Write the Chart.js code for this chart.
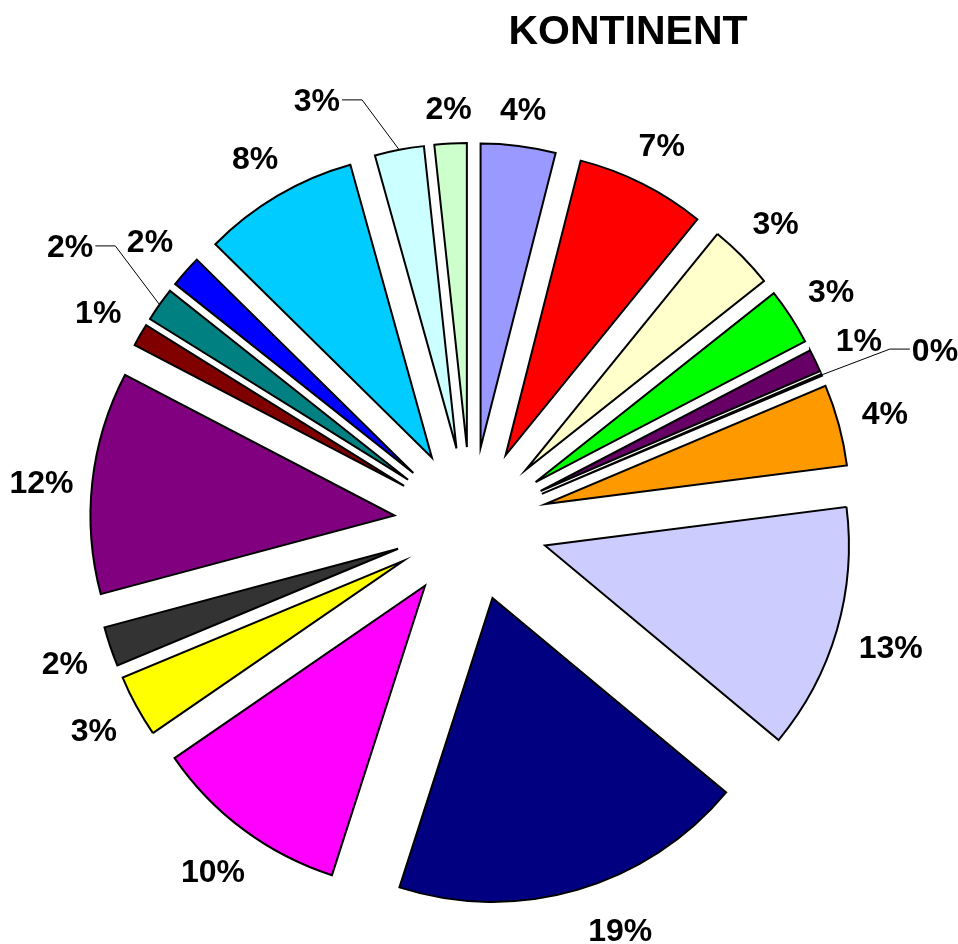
<!DOCTYPE html>
<html lang="de">
<head>
    <meta charset="UTF-8">
    <title>Kontinent</title>
    <script src="https://cdn.jsdelivr.net/npm/chart.js@4.4.1/dist/chart.umd.min.js"></script>
    <style>
        html, body { margin: 0; padding: 0; background: #fff; }
        #wrap { width: 958px; height: 944px; position: relative; }
    </style>
</head>
<body>
    <div id="wrap"><canvas id="pie"></canvas></div>

    <script>
        // Data (clockwise from 12 o'clock)
        const categories = [
            'Kategorie 1', 'Kategorie 2', 'Kategorie 3', 'Kategorie 4', 'Kategorie 5',
            'Kategorie 6', 'Kategorie 7', 'Kategorie 8', 'Kategorie 9', 'Kategorie 10',
            'Kategorie 11', 'Kategorie 12', 'Kategorie 13', 'Kategorie 14', 'Kategorie 15',
            'Kategorie 16', 'Kategorie 17', 'Kategorie 18', 'Kategorie 19'
        ];
        const shares = [3.95, 6.85, 3.45, 3.0, 1.2, 0.1, 4.3, 13.0, 18.8, 10.4,
                        3.3, 2.1, 11.75, 1.2, 1.8, 1.7, 8.25, 2.6, 1.7];
        const sliceColors = [
            '#9999FF', '#FF0000', '#FFFFCC', '#00FF00', '#660066', '#FFFFFF',
            '#FF9900', '#CCCCFF', '#000080', '#FF00FF', '#FFFF00', '#333333',
            '#800080', '#800000', '#008080', '#0000FF', '#00CCFF', '#CCFFFF', '#CCFFCC'
        ];
        const chartTitle = 'KONTINENT';

        const EXPLODE = 77;     // every slice pulled out from the centre
        const LABEL_GAP = 22;   // gap between arc and label box
        const HALF_H = 12.5;    // half height of a label box
        // labels dragged away from their slice (these get a leader line)
        const labelNudge = { 5: [69, -7], 14: [-50, -31], 17: [-75, -12] };
        // labels moved a little, no leader line
        const labelShift = { 8: [31, -2], 12: [4, 5] };

        const total = shares.reduce((a, b) => a + b, 0);

        // move every arc outward along its middle angle
        const explode = {
            id: 'explode',
            afterDatasetsUpdate(chart) {
                chart.getDatasetMeta(0).data.forEach(arc => {
                    const mid = (arc.startAngle + arc.endAngle) / 2;
                    arc.x += Math.cos(mid) * EXPLODE;
                    arc.y += Math.sin(mid) * EXPLODE;
                });
            }
        };

        const pctLabels = {
            id: 'pctLabels',
            afterDatasetsDraw(chart) {
                const ctx = chart.ctx;
                ctx.save();
                ctx.font = 'bold 32px "Liberation Sans", Arial, sans-serif';
                ctx.fillStyle = '#000';
                ctx.strokeStyle = '#000';
                ctx.lineWidth = 1;
                ctx.textAlign = 'center';
                ctx.textBaseline = 'alphabetic';
                chart.getDatasetMeta(0).data.forEach((arc, i) => {
                    const mid = (arc.startAngle + arc.endAngle) / 2;
                    const cos = Math.cos(mid), sin = Math.sin(mid);
                    const r = arc.outerRadius;
                    const text = Math.round(shares[i] / total * 100) + '%';
                    const w = ctx.measureText(text).width;
                    const dist = r + LABEL_GAP + Math.abs(cos) * w / 2 + Math.abs(sin) * HALF_H;
                    let lx = arc.x + cos * dist;
                    let ly = arc.y + sin * dist;
                    const shift = labelShift[i];
                    if (shift) {
                        lx += shift[0];
                        ly += shift[1];
                    }
                    const nudge = labelNudge[i];
                    if (nudge) {
                        lx += nudge[0];
                        ly += nudge[1];
                        const ax = arc.x + cos * r, ay = arc.y + sin * r;
                        const side = lx < ax ? 1 : -1;
                        const edge = lx + side * w / 2;
                        ctx.beginPath();
                        ctx.moveTo(ax, ay);
                        ctx.lineTo(edge + side * 22, ly);
                        ctx.lineTo(edge + side * 2, ly);
                        ctx.stroke();
                    }
                    ctx.fillText(text, lx, ly + 11.5);
                });

                ctx.font = 'bold 41px "Liberation Sans", Arial, sans-serif';
                ctx.fillText(chartTitle, 628, 44);
                ctx.restore();
            }
        };

        new Chart(document.getElementById('pie'), {
            type: 'pie',
            data: {
                labels: categories,
                datasets: [{
                    data: shares,
                    backgroundColor: sliceColors,
                    borderColor: '#000',
                    borderWidth: 2,
                    borderJoinStyle: 'miter'
                }]
            },
            options: {
                responsive: true,
                maintainAspectRatio: false,
                animation: false,
                events: [],
                radius: 304,
                layout: { padding: { top: 104, right: 16, bottom: 0, left: 0 } },
                plugins: {
                    legend: { display: false },
                    tooltip: { enabled: false }
                }
            },
            plugins: [explode, pctLabels]
        });
    </script>
</body>
</html>
